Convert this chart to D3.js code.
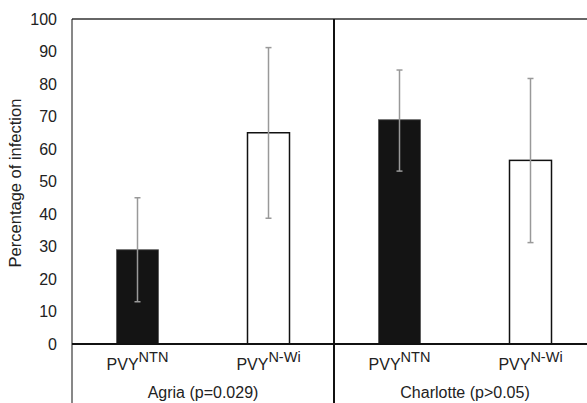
<!DOCTYPE html>
<html>
<head>
<meta charset="utf-8">
<script src="https://cdn.jsdelivr.net/npm/d3@7"></script>
<style>
  body { margin: 0; background: #fff; }
  text { font-family: "Liberation Sans", Arial, sans-serif; fill: #222; }
</style>
</head>
<body>
<svg id="chart" width="587" height="403"></svg>
<script>
// data
const groups = ["Agria (p=0.029)", "Charlotte (p>0.05)"];
const strains = ["NTN", "N-Wi"];
const means = [29, 65, 69, 56.5];
const errLow = [13, 38.7, 53.2, 31.2];
const errHigh = [45, 91.2, 84.3, 81.7];
const yTicks = [0, 10, 20, 30, 40, 50, 60, 70, 80, 90, 100];

const width = 587, height = 403;
const mLeft = 72, mTop = 19, mBottom = 344;

const svg = d3.select("#chart");

const cats = d3.range(4);
const x = d3.scaleBand()
  .domain(cats)
  .range([mLeft, mLeft + 131 * 4])
  .padding(0);

const y = d3.scaleLinear()
  .domain([0, 100])
  .range([mBottom, mTop]);

const barW = 42;

// top border
svg.append("line")
  .attr("x1", mLeft).attr("x2", width)
  .attr("y1", y(100)).attr("y2", y(100))
  .style("stroke", "#333").style("stroke-width", 1.5);

// y tick labels
svg.append("g")
  .selectAll("text")
  .data(yTicks).enter()
  .append("text")
  .attr("x", 57)
  .attr("y", d => y(d))
  .attr("dy", "0.36em")
  .attr("text-anchor", "end")
  .style("font-size", "16px")
  .text(d => d);

// y label
svg.append("text")
  .attr("transform", "translate(21,183) rotate(-90)")
  .attr("text-anchor", "middle")
  .style("font-size", "16.5px")
  .text("Percentage of infection");

// bars
svg.append("g")
  .selectAll("rect")
  .data(cats).enter()
  .append("rect")
  .attr("x", i => x(i) + x.bandwidth() / 2 - barW / 2)
  .attr("y", i => y(means[i]))
  .attr("width", barW)
  .attr("height", i => y(0) - y(means[i]))
  .style("fill", i => i % 2 == 0 ? "#141414" : "#fff")
  .style("stroke", i => i % 2 == 0 ? "#555" : "#111")
  .style("stroke-width", i => i % 2 == 0 ? 0.8 : 1.5);

// error bars
const eb = svg.append("g").style("stroke", "#999").style("stroke-width", 1.5);
cats.forEach(i => {
  const cx = x(i) + x.bandwidth() / 2;
  eb.append("line")
    .attr("x1", cx).attr("x2", cx)
    .attr("y1", y(errLow[i])).attr("y2", y(errHigh[i]));
  [errLow[i], errHigh[i]].forEach(v => {
    eb.append("line")
      .attr("x1", cx - 3).attr("x2", cx + 3)
      .attr("y1", y(v)).attr("y2", y(v));
  });
});

// left axis line, extends down through category labels
svg.append("line")
  .attr("x1", mLeft).attr("x2", mLeft)
  .attr("y1", mTop).attr("y2", height)
  .style("stroke", "#111").style("stroke-width", 1);

// group divider
const mid = x(2);
svg.append("line")
  .attr("x1", mid).attr("x2", mid)
  .attr("y1", mTop).attr("y2", height)
  .style("stroke", "#111").style("stroke-width", 2);

// zero line
svg.append("line")
  .attr("x1", mLeft).attr("x2", width)
  .attr("y1", y(0)).attr("y2", y(0))
  .style("stroke", "#111").style("stroke-width", 2);

// strain labels with superscript
cats.forEach(i => {
  const t = svg.append("text")
    .attr("x", x(i) + x.bandwidth() / 2)
    .attr("y", 370)
    .attr("text-anchor", "middle")
    .style("font-size", "16px");
  t.append("tspan").text("PVY");
  t.append("tspan")
    .attr("dy", -8)
    .style("font-size", "14.5px")
    .text(strains[i % 2]);
});

// group labels
groups.forEach((g, k) => {
  svg.append("text")
    .attr("x", (x(k * 2) + x(k * 2 + 1) + x.bandwidth()) / 2)
    .attr("y", 398)
    .attr("text-anchor", "middle")
    .style("font-size", "16px")
    .text(g);
});
</script>
</body>
</html>
